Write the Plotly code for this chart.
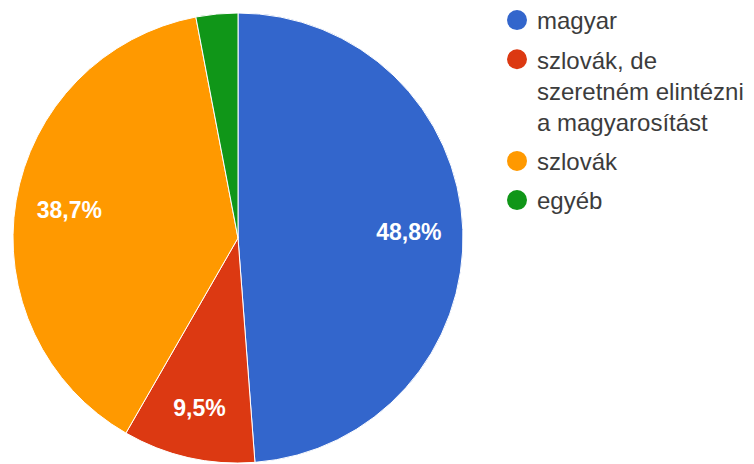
import plotly.graph_objects as go

labels = ["magyar", "szlovák, de szeretném elintézni a magyarosítást", "szlovák", "egyéb"]
legend_labels = ["magyar", "szlovák, de<br>szeretném elintézni<br>a magyarosítást", "szlovák", "egyéb"]
values = [48.8, 9.5, 38.7, 3.0]
colors = ["#3366CC", "#DC3912", "#FF9900", "#109618"]
show_label = [True, True, True, False]

W, H = 754, 464
OFF = 8  # browser body margin
FONT = "Arial, 'Liberation Sans', sans-serif"

dom = dict(x=[(13 - OFF) / W, (463 - OFF) / W], y=[1 - (463 - OFF) / H, 1 - (13 - OFF) / H])

fig = go.Figure()
fig.add_trace(go.Pie(
    labels=labels,
    values=values,
    sort=False,
    direction="clockwise",
    rotation=0,
    marker=dict(colors=colors, line=dict(color="white", width=1)),
    textinfo="none",
    hoverinfo="label+percent",
    showlegend=False,
    domain=dom,
))
# transparent ring overlay used only to place the percentage labels further out
fig.add_trace(go.Pie(
    labels=labels,
    values=values,
    sort=False,
    direction="clockwise",
    rotation=0,
    hole=0.52,
    marker=dict(colors=["rgba(0,0,0,0)"] * len(values), line=dict(width=0)),
    texttemplate=["%{percent:.1%}" if s else "" for s in show_label],
    textposition="inside",
    insidetextorientation="horizontal",
    textfont=dict(family=FONT, size=23, color="white", weight="bold"),
    hoverinfo="skip",
    showlegend=False,
    domain=dom,
))

for name, col in zip(legend_labels, colors):
    fig.add_trace(go.Scatter(
        x=[None], y=[None], mode="markers", name=name,
        marker=dict(symbol="circle", size=16, color=col, line=dict(color=col, width=4)),
        legendgroup=name, showlegend=True, hoverinfo="skip",
    ))

fig.update_layout(
    width=W, height=H,
    margin=dict(l=0, r=0, t=0, b=0, autoexpand=False),
    paper_bgcolor="white", plot_bgcolor="white",
    separators=", ",
    font=dict(family=FONT, color="#3c3c3c"),
    xaxis=dict(visible=False),
    yaxis=dict(visible=False),
    legend=dict(
        x=489 / W, xanchor="left", y=1 + 10 / H, yanchor="top",
        font=dict(family=FONT, size=24, color="#3c3c3c"),
        tracegroupgap=5, itemsizing="trace", valign="top",
        bgcolor="rgba(0,0,0,0)",
    ),
)

fig.write_html("out.html")
